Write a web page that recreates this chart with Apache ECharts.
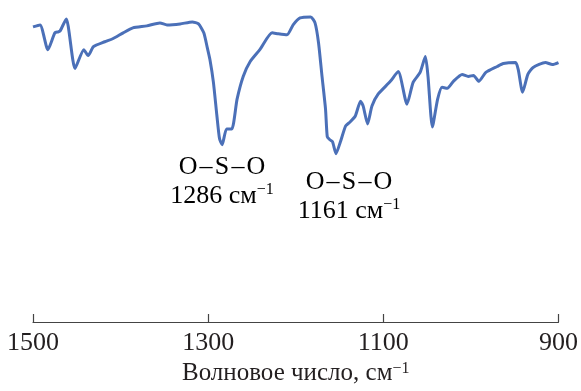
<!DOCTYPE html>
<html>
<head>
<meta charset="utf-8">
<script src="https://cdn.jsdelivr.net/npm/echarts@6/dist/echarts.min.js"></script>
<style>
  html, body { margin: 0; padding: 0; background: #fff; }
  #main { width: 581px; height: 391px; }
</style>
</head>
<body>
<div id="main"></div>
<script>
// волновое число, см-1
const wavenumbers = [
  1500, 1492, 1483, 1475, 1471, 1469, 1462, 1452, 1442, 1437, 1431, 1418, 1409, 1397,
  1386, 1370, 1355, 1347, 1332, 1318, 1311, 1305, 1301, 1298, 1294, 1290, 1287, 1284,
  1279, 1273, 1267, 1260, 1252, 1241, 1227, 1220, 1210, 1203, 1195, 1183, 1178, 1174,
  1170, 1166, 1164, 1161, 1158, 1154, 1149, 1143, 1138, 1132, 1126, 1123, 1118, 1113,
  1106, 1092, 1083, 1073, 1066, 1058, 1052, 1049, 1044, 1038, 1033, 1027, 1020, 1010,
  1003, 997, 991, 983, 970, 963, 949, 946, 941, 935, 929, 915, 907, 900
];
// пропускание, отн. ед.
const transmittance = [
  94, 95, 82.5, 91, 91.5, 92, 98, 73, 82.5, 79.5, 84, 86.5, 88, 91,
  93.5, 94.5, 96, 95, 95.5, 96.5, 95.5, 91, 83.5, 77.5, 66, 49, 37.5, 34.5,
  42.5, 42.5, 57.5, 69, 76.5, 82.5, 91, 90.5, 90, 95, 98.5, 99, 96, 86,
  69, 52.5, 38.5, 37, 36, 30, 36, 44, 46, 49, 56.5, 54, 45, 54,
  60, 66.5, 71.5, 55, 66, 71, 79, 69, 43.5, 57.5, 63.5, 63, 66.5, 70,
  69, 69.5, 66.5, 71, 74, 75.5, 76, 72.5, 61, 70, 73.5, 76, 75, 76
];
const tickValues = [1500, 1300, 1100, 900];
const bandNames = ['O\u200a–\u200aS\u200a–\u200aO', 'O\u200a–\u200aS\u200a–\u200aO'];
const bandPositions = ['1286', '1161'];

const serif = '"Liberation Serif", "DejaVu Serif", serif';
const textColor = '#231f20';

let myChart = echarts.init(document.getElementById('main'));
myChart.setOption({
  backgroundColor: '#fff',
  animation: false,
  grid: {
    left: 33,
    right: 21,
    top: 15,
    bottom: 66
  },
  xAxis: {
    type: 'value',
    min: 900,
    max: 1500,
    inverse: true,
    name: 'Волновое число, см{s|−1}',
    nameLocation: 'middle',
    nameGap: 39,
    nameTextStyle: {
      fontFamily: serif,
      fontSize: 25,
      color: textColor,
      rich: {
        s: { fontFamily: serif, fontSize: 16, color: textColor, verticalAlign: 'top', lineHeight: 12 }
      }
    },
    axisLine: { onZero: false, lineStyle: { color: '#444', width: 1.2 } },
    axisTick: {
      inside: true,
      length: 8,
      customValues: tickValues,
      lineStyle: { color: '#444', width: 1.2 }
    },
    axisLabel: {
      customValues: tickValues,
      formatter: (v) => String(v),
      margin: 8,
      fontFamily: serif,
      fontSize: 26,
      color: textColor
    },
    splitLine: { show: false }
  },
  yAxis: {
    type: 'value',
    show: false,
    min: -55,
    max: 100
  },
  series: [{
    type: 'line',
    data: wavenumbers.map((w, i) => [w, transmittance[i]]),
    showSymbol: false,
    smooth: 0.2,
    lineStyle: { color: '#4b70b8', width: 3 }
  }],
  graphic: [
    { pos: [222, 153] },
    { pos: [349, 168] }
  ].map((g, i) => ({
    type: 'text',
    x: g.pos[0],
    y: g.pos[1],
    style: {
      text: '{a|' + bandNames[i] + '}\n{b|' + bandPositions[i] + ' см}{s|−1}',
      align: 'center',
      rich: {
        a: { fontFamily: serif, fontSize: 26, color: textColor, lineHeight: 29, align: 'center' },
        b: { fontFamily: serif, fontSize: 26, color: textColor, lineHeight: 29 },
        s: { fontFamily: serif, fontSize: 16, color: textColor, verticalAlign: 'top', lineHeight: 12 }
      }
    }
  }))
});
</script>
</body>
</html>
